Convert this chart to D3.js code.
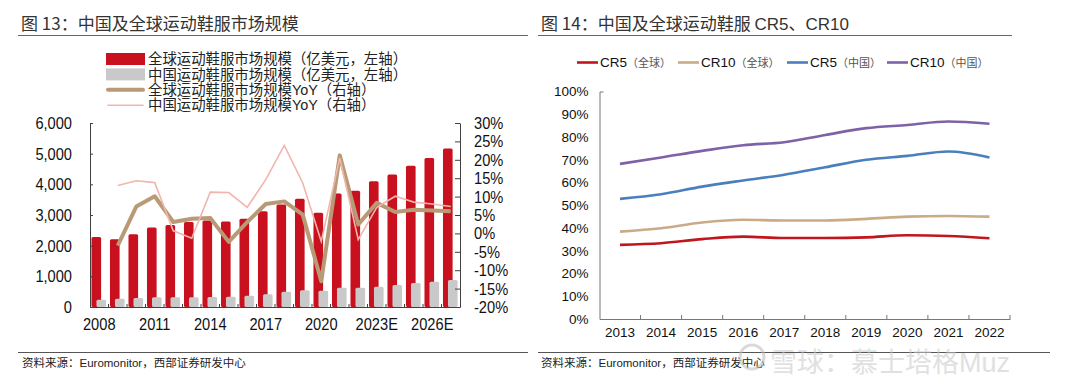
<!DOCTYPE html>
<html>
<head>
<meta charset="utf-8">
<script src="https://cdn.jsdelivr.net/npm/d3@7"></script>
<style>
  body { margin: 0; background: #fff; }
  svg { display: block; }
  text { font-family: "Liberation Sans", Arial, sans-serif; }
  .cjk { font-family: "Noto Sans CJK SC", sans-serif; }
</style>
</head>
<body>
<svg id="chart" width="1080" height="387"></svg>
<script>
// ---- data: left chart (图13) ----
const yearsL = ["2008","2009","2010","2011","2012","2013","2014","2015","2016","2017",
                "2018","2019","2020","2021","2022","2023E","2024E","2025E","2026E","2027E"];
const labelYearsL = ["2008","2011","2014","2017","2020","2023E","2026E"];
const globalSize = [2280,2210,2370,2590,2670,2770,2820,2790,2880,3120,3340,3530,3070,3700,3790,4100,4320,4610,4860,5170];
const chinaSize  = [240,270,290,315,315,315,325,337,370,413,500,543,533,630,630,663,717,783,826,880];
const globalYoY  = [null,-3.3,7.3,10.1,3.1,4.0,4.2,-2.3,3.1,8.0,8.7,5.1,-13.0,21.2,2.4,8.3,5.8,6.4,6.2,6.0];
const chinaYoY   = [null,13.0,14.3,13.8,0.7,-1.3,11.2,11.1,7.1,14.6,23.9,13.7,-2.2,20.5,-1.7,7.1,10.1,8.5,8.0,7.3];
const leftTicks  = [0,1000,2000,3000,4000,5000,6000];
const rightTicks = [-20,-15,-10,-5,0,5,10,15,20,25,30];
const legendL = ["全球运动鞋服市场规模（亿美元，左轴）","中国运动鞋服市场规模（亿美元，左轴）",
                 "全球运动鞋服市场规模YoY（右轴）","中国运动鞋服市场规模YoY（右轴）"];

// ---- data: right chart (图14) ----
const yearsR = ["2013","2014","2015","2016","2017","2018","2019","2020","2021","2022"];
const cr5Global  = [32.6,33.3,35.1,36.2,35.6,35.6,35.9,36.8,36.5,35.5];
const cr10Global = [38.4,39.9,42.4,43.6,43.3,43.3,44.0,45.0,45.3,45.0];
const cr5China   = [52.8,54.8,58.2,60.9,63.4,66.7,70.0,71.7,73.6,71.0];
const cr10China  = [68.2,71.0,73.9,76.4,77.7,80.9,83.9,85.3,86.8,85.8];
const pctTicks   = [0,10,20,30,40,50,60,70,80,90,100];
const seriesR = [
  {name:"CR5", tag:"（全球）", values:cr5Global,  color:"#c0161e"},
  {name:"CR10",tag:"（全球）", values:cr10Global, color:"#c9ab88"},
  {name:"CR5", tag:"（中国）", values:cr5China,   color:"#4a7fbd"},
  {name:"CR10",tag:"（中国）", values:cr10China,  color:"#7d62a8"}
];

const svg = d3.select("#chart");

// squeeze wide glyphs so the numbers look as tall & narrow as in the picture
function squeeze(sel, k) {
  sel.each(function() {
    const w = this.getComputedTextLength();
    d3.select(this).attr("textLength", w * k).attr("lengthAdjust", "spacingAndGlyphs");
  });
}

// ---------- titles, rules, footers ----------
svg.append("text").attr("class","cjk").attr("x",21).attr("y",30)
  .attr("font-size",17).attr("fill","#333").text("图 13：中国及全球运动鞋服市场规模");
svg.append("text").attr("class","cjk").attr("x",541).attr("y",30)
  .attr("font-size",17).attr("fill","#333")
  .html('图 14：中国及全球运动鞋服 <tspan style="font-family:Liberation Sans">CR5</tspan>、<tspan style="font-family:Liberation Sans">CR10</tspan>');
svg.append("line").attr("x1",18).attr("x2",528).attr("y1",35.5).attr("y2",35.5).attr("stroke","#666");
svg.append("line").attr("x1",538).attr("x2",1012).attr("y1",35.5).attr("y2",35.5).attr("stroke","#666");
svg.append("line").attr("x1",18).attr("x2",528).attr("y1",352.5).attr("y2",352.5).attr("stroke","#555");
svg.append("line").attr("x1",538).attr("x2",1050).attr("y1",352.5).attr("y2",352.5).attr("stroke","#555");
[22, 541].forEach(x => {
  svg.append("text").attr("class","cjk").attr("x",x).attr("y",367).attr("font-size",11.5).attr("fill","#222")
    .html('资料来源：<tspan style="font-family:Liberation Sans">Euromonitor</tspan>，西部证券研发中心');
});

// ---------- left chart ----------
const xL = d3.scaleBand().domain(yearsL).range([90, 460]);
const bw = xL.bandwidth();
const yL = d3.scaleLinear().domain([0, 6000]).range([307, 123]);
const yR = d3.scaleLinear().domain([-20, 30]).range([307, 123]);

const gL = svg.append("g");

gL.selectAll("rect.global").data(yearsL).join("rect").attr("class","global")
  .attr("x", d => xL(d) + bw * 0.08).attr("width", bw * 0.52)
  .attr("y", (d,i) => yL(globalSize[i])).attr("height", (d,i) => yL(0) - yL(globalSize[i]))
  .attr("rx", 1.5).attr("fill", "#c8101e");
gL.selectAll("rect.china").data(yearsL).join("rect").attr("class","china")
  .attr("x", d => xL(d) + bw * 0.35).attr("width", bw * 0.52)
  .attr("y", (d,i) => yL(chinaSize[i])).attr("height", (d,i) => yL(0) - yL(chinaSize[i]))
  .attr("rx", 1.5).attr("fill", "#c9c9c9");

const lineYoY = d3.line()
  .defined(d => d.v !== null)
  .x(d => xL(d.year) + bw / 2).y(d => yR(d.v));
gL.append("path").datum(yearsL.map((y,i) => ({year:y, v:globalYoY[i]})))
  .attr("d", lineYoY).attr("fill","none").attr("stroke","#b89a76").attr("stroke-width",4)
  .attr("stroke-linejoin","round");
gL.append("path").datum(yearsL.map((y,i) => ({year:y, v:chinaYoY[i]})))
  .attr("d", lineYoY).attr("fill","none").attr("stroke","#f2b5ae").attr("stroke-width",1.6);

// axes
const axL = gL.append("g").attr("transform","translate(90,0)")
  .call(d3.axisLeft(yL).tickValues(leftTicks).tickFormat(d3.format(",")).tickSizeInner(-3).tickSizeOuter(0).tickPadding(18));
const axR = gL.append("g").attr("transform","translate(460,0)")
  .call(d3.axisRight(yR).tickValues(rightTicks).tickFormat(d => d + "%").tickSizeInner(-5).tickSizeOuter(0).tickPadding(14));
const axB = gL.append("g").attr("transform","translate(0,307)")
  .call(d3.axisBottom(xL).tickValues(labelYearsL).tickSize(0).tickPadding(11));
[axL, axR, axB].forEach(a => {
  a.selectAll("path,line").attr("stroke","#404040");
  a.selectAll("text").attr("font-size",17).attr("fill","#111").attr("font-family","Liberation Sans, Arial");
  squeeze(a.selectAll("text"), 0.86);
});
gL.selectAll("line.cat").data(yearsL.slice(1)).join("line").attr("class","cat")
  .attr("x1", d => xL(d)).attr("x2", d => xL(d)).attr("y1", 307).attr("y2", 304).attr("stroke","#404040");

// legend
const legL = gL.append("g");
legendL.forEach((t, i) => {
  const cy = 59 + i * 15.4;
  if (i < 2) {
    legL.append("rect").attr("x",106).attr("y",cy-6).attr("width",39).attr("height",12)
      .attr("fill", i === 0 ? "#c8101e" : "#c9c9c9");
  } else {
    legL.append("line").attr("x1",108).attr("x2",143).attr("y1",cy).attr("y2",cy)
      .attr("stroke", i === 2 ? "#b89a76" : "#f2b5ae").attr("stroke-width", i === 2 ? 4 : 1.6)
      .attr("stroke-linecap","round");
  }
  legL.append("text").attr("class","cjk").attr("x",148).attr("y",cy).attr("dy","0.36em")
    .attr("font-size",14.4).attr("fill","#222")
    .html(t.replace("YoY", '<tspan style="font-family:Liberation Sans">YoY</tspan>'));
});

// ---------- right chart ----------
const xR = d3.scaleBand().domain(yearsR).range([599.5, 1010]);
const bwR = xR.bandwidth();
const yP = d3.scaleLinear().domain([0, 100]).range([319, 91.5]);
const gR = svg.append("g");

const axY = gR.append("g").attr("transform","translate(599.5,0)")
  .call(d3.axisLeft(yP).tickValues(pctTicks).tickFormat(d => d + "%").tickSizeInner(0).tickSizeOuter(-4).tickPadding(11));
const axX = gR.append("g").attr("transform","translate(0,319)")
  .call(d3.axisBottom(xR).tickSize(0).tickPadding(8));
[axY, axX].forEach(a => {
  a.selectAll("path,line").attr("stroke","#777");
  a.selectAll("text").attr("font-size",13.5).attr("fill","#111").attr("font-family","Liberation Sans, Arial");
});
gR.selectAll("line.cat").data(yearsR.slice(1).concat(["end"])).join("line").attr("class","cat")
  .attr("x1", d => d === "end" ? xR.range()[1] : xR(d)).attr("x2", d => d === "end" ? xR.range()[1] : xR(d))
  .attr("y1", 319).attr("y2", 315).attr("stroke","#777");

const lineR = d3.line().curve(d3.curveMonotoneX)
  .x((d,i) => xR(yearsR[i]) + bwR / 2).y(d => yP(d));
seriesR.forEach(s => {
  gR.append("path").datum(s.values).attr("d", lineR).attr("fill","none")
    .attr("stroke", s.color).attr("stroke-width", 2.6);
});

// legend (right)
const legX = [577, 678, 787, 887];
seriesR.forEach((s, i) => {
  const x = legX[i];
  gR.append("line").attr("x1",x).attr("x2",x+21).attr("y1",62.5).attr("y2",62.5)
    .attr("stroke", s.color).attr("stroke-width",2.6);
  const t = gR.append("text").attr("x",x+23).attr("y",62.5).attr("dy","0.36em").attr("font-size",13.5).attr("fill","#111");
  t.append("tspan").text(s.name);
  t.append("tspan").attr("class","cjk").attr("font-size",11).attr("fill","#555").text(s.tag);
});

// watermark
const wm = svg.append("g").attr("opacity",0.55);
wm.append("circle").attr("cx",752).attr("cy",357).attr("r",12).attr("fill","none").attr("stroke","#bbb").attr("stroke-width",3);
wm.append("text").attr("class","cjk").attr("x",770).attr("y",372).attr("font-size",27).attr("fill","#c8c8c8")
  .html('雪球：慕士塔格<tspan style="font-family:Liberation Sans">Muz</tspan>');
</script>
</body>
</html>
